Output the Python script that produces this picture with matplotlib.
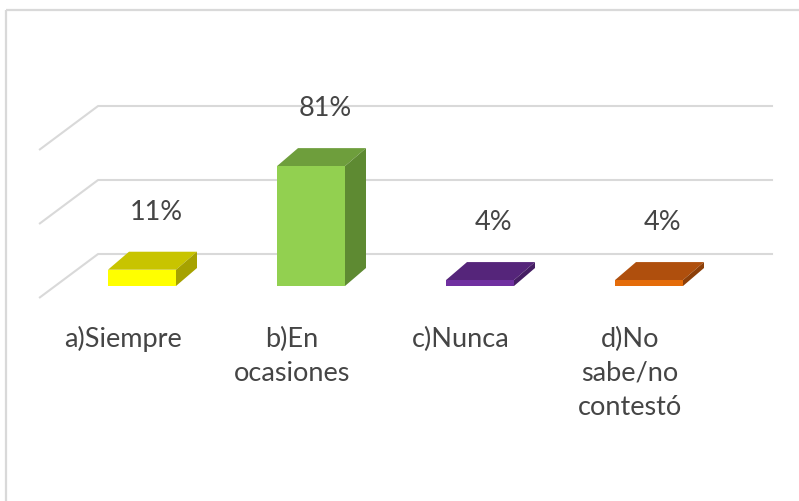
import matplotlib
matplotlib.use("Agg")
import matplotlib.pyplot as plt
from matplotlib.patches import Polygon

# ---- data ----
categories = ["a)Siempre", "b)En\nocasiones", "c)Nunca", "d)No\nsabe/no\ncontestó"]
values = [11, 81, 4, 4]            # percent
value_labels = ["11%", "81%", "4%", "4%"]
grid_values = [0, 50, 100]

# ---- styles ----
face_colors = [  # front, top, side
    ("#FFFF00", "#C8C400", "#A6A200"),
    ("#92D050", "#6E9E3C", "#5E8A32"),
    ("#7030A0", "#55257A", "#451E63"),
    ("#E46C0A", "#AF4F0D", "#8C3F09"),
]
text_color = "#454545"
grid_color = "#D9D9D9"
font = ["Lato", "DejaVu Sans"]

W, H, DPI = 799, 502, 100
PX_X = 169.0   # pixels per category unit
PX_Y = 1.48    # pixels per percent
fig = plt.figure(figsize=(W / DPI, H / DPI), dpi=DPI)
ax = fig.add_axes([0, 0, 1, 1])
ax.set_xlim(-142 / PX_X, (W - 142) / PX_X)
ax.set_ylim(-(H - 287) / PX_Y, 287 / PX_Y)
ax.axis("off")

# depth offsets of the pseudo-3D bars
bw = 68 / PX_X
ddx = 21 / PX_X
ddy = 18 / PX_Y

# back-wall gridlines with floor diagonal
wall_base = 32 / PX_Y
diag_dx = 59 / PX_X
diag_dy = 44 / PX_Y
x_left = -0.609
x_right = 3.734
for g in grid_values:
    yv = wall_base + g
    ax.plot([x_left, x_left + diag_dx, x_right], [yv - diag_dy, yv, yv],
            color=grid_color, lw=1.5, solid_capstyle="butt", zorder=1)

# bars
for i, (v, (cf, ct, cs)) in enumerate(zip(values, face_colors)):
    x0, x1 = i - bw / 2, i + bw / 2
    top = [(x0, v), (x1, v), (x1 + ddx, v + ddy), (x0 + ddx, v + ddy)]
    side = [(x1, 0), (x1 + ddx, ddy), (x1 + ddx, v + ddy), (x1, v)]
    front = [(x0, 0), (x1, 0), (x1, v), (x0, v)]
    ax.add_patch(Polygon(top, closed=True, facecolor=ct, edgecolor="none", zorder=3))
    ax.add_patch(Polygon(side, closed=True, facecolor=cs, edgecolor="none", zorder=3))
    ax.add_patch(Polygon(front, closed=True, facecolor=cf, edgecolor="none", zorder=4))
    ax.text(i + 14 / PX_X, v + 51 / PX_Y, value_labels[i], ha="center", va="baseline",
            fontsize=19.5, color=text_color, family=font, zorder=5)

# category labels
line_step = 34 / PX_Y
for i, cat in enumerate(categories):
    for k, line in enumerate(cat.split("\n")):
        ax.text(i - 19 / PX_X, -60 / PX_Y - k * line_step, line, ha="center", va="baseline",
                fontsize=19.5, color=text_color, family=font, zorder=5)

# chart-area border (top and left only visible)
ax.plot([6 / W, 1], [1 - 11 / H, 1 - 11 / H], transform=ax.transAxes,
        color=grid_color, lw=1.6, solid_capstyle="butt", clip_on=False)
ax.plot([6 / W, 6 / W], [0, 1 - 11 / H], transform=ax.transAxes,
        color=grid_color, lw=1.6, solid_capstyle="butt", clip_on=False)

fig.savefig("out.png", dpi=DPI)
